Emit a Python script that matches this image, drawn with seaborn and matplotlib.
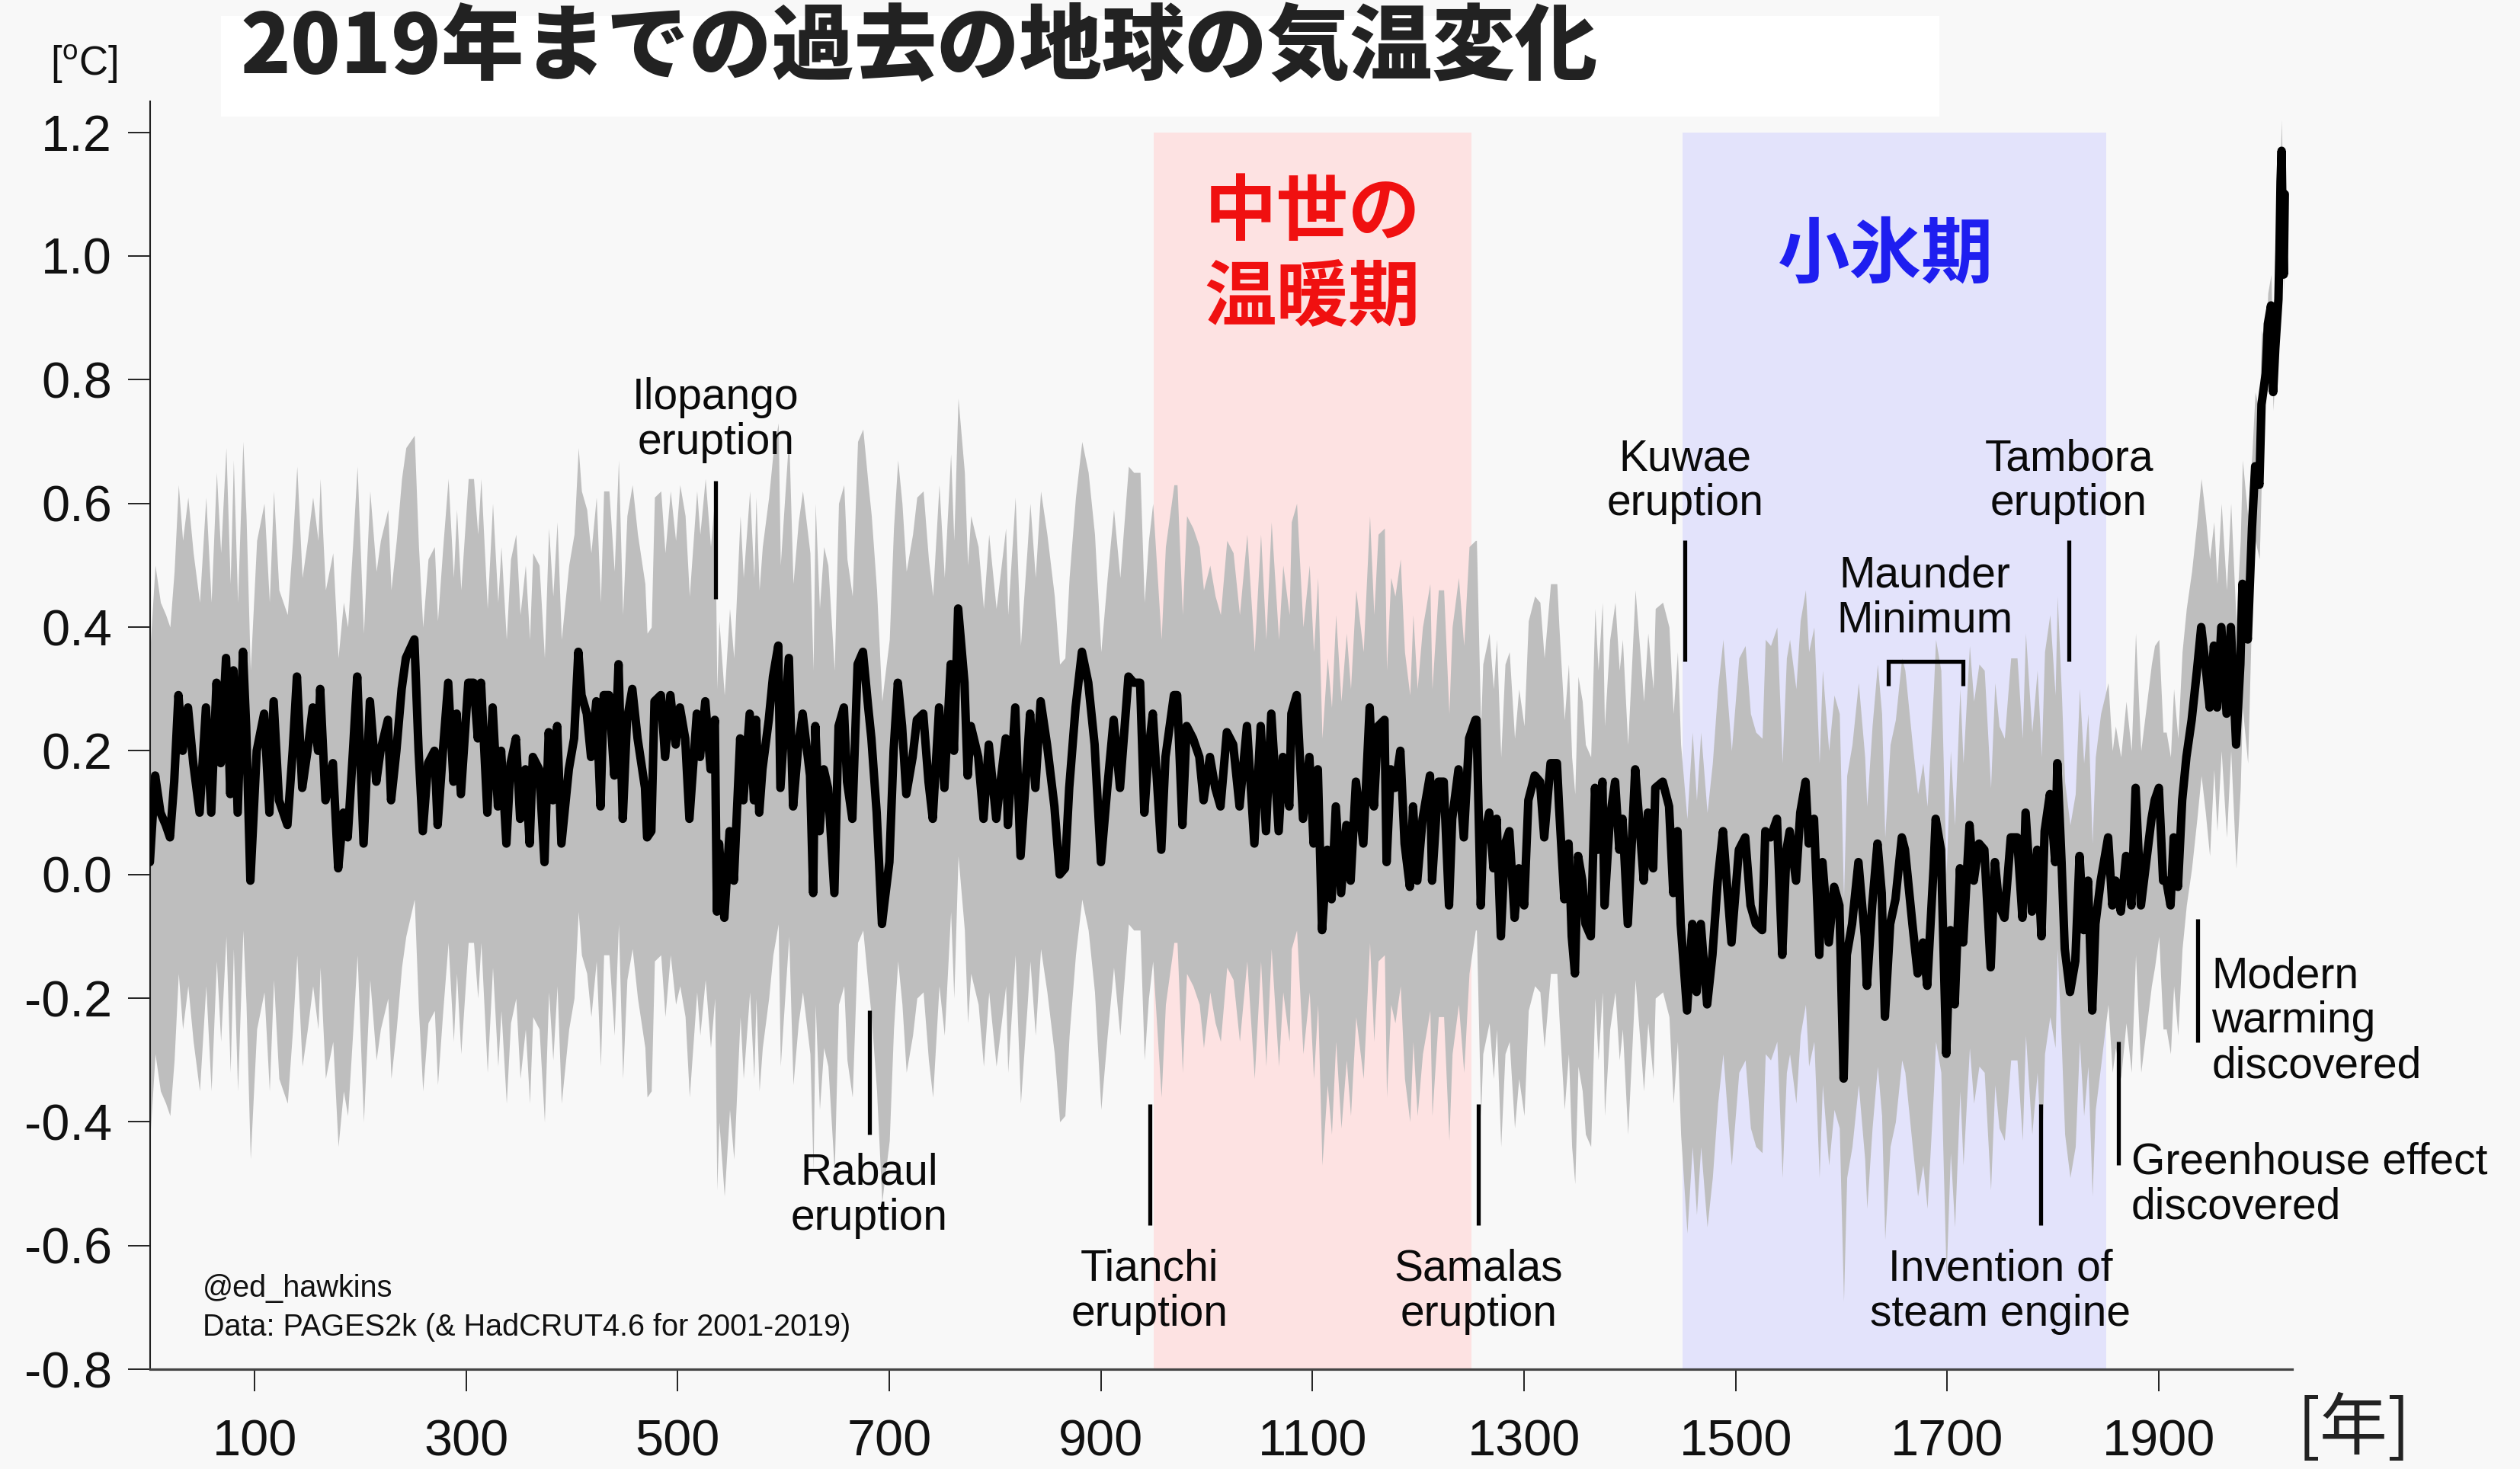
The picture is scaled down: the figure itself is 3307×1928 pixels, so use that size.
import numpy as np
import pandas as pd
import matplotlib
matplotlib.use("Agg")
import matplotlib.pyplot as plt
from matplotlib.patches import Rectangle
import seaborn as sns

# Reconstructed global mean temperature (median), year -> deg C
years = [
    1, 6, 11, 16, 20, 24, 28, 32, 37, 42, 48, 54, 59, 64, 68, 73, 77, 80, 84, 89,
    92, 96, 102, 109, 114, 118, 123, 131, 136, 140, 145, 150, 155, 160, 162, 167, 174, 179, 184, 188,
    193, 197, 203, 209, 215, 219, 226, 229, 234, 239, 243,
    251, 255, 259, 264, 270, 273, 278, 283, 288, 291, 295, 302, 307, 311, 314, 320, 325, 330, 333, 338,
    342, 347, 351, 356, 360, 363, 369, 374, 378, 382, 386, 390, 397, 402, 406, 409, 414, 418, 423, 427,
    430, 435, 440, 444, 448, 452, 457, 462, 469, 471, 475, 478, 484, 488, 493, 498,
    502, 507, 511, 518, 521, 526, 531, 535, 537, 539, 544, 549, 553, 559, 562, 568, 572, 574, 577, 580,
    586, 590, 595, 597, 605, 609, 614, 618, 625, 628, 630, 634, 638, 642, 648, 652, 657, 660, 665, 670,
    675, 680, 683, 688, 693, 695, 700, 704, 708, 712, 716, 722, 726, 732, 737, 741, 747, 752,
    758, 761, 765, 771, 774, 777, 784, 789, 794, 801, 810, 812, 819, 824, 830, 833, 838, 843, 849, 856,
    861, 866, 870, 876, 882, 888, 894, 900, 906, 912, 918, 926, 931, 937, 941, 945, 949, 957, 961, 969,
    972, 977, 981, 987, 993, 997, 1003,
    1008, 1013, 1019, 1025, 1031, 1038, 1045, 1051, 1056, 1061, 1068, 1072, 1078, 1080, 1085, 1091, 1097,
    1101, 1105, 1109, 1114, 1118, 1122, 1127, 1132, 1136, 1141, 1148, 1154, 1158, 1162, 1168, 1170, 1174,
    1178, 1183, 1187, 1192, 1195, 1199, 1204, 1211, 1213, 1219, 1224, 1229, 1232, 1238, 1243, 1248, 1254,
    1255, 1259, 1261, 1267, 1271, 1274, 1278, 1282, 1286, 1291, 1295, 1300, 1304, 1310, 1315, 1319, 1325,
    1331, 1333, 1338, 1342, 1345, 1348, 1351, 1355, 1358, 1363, 1367, 1370, 1374, 1376, 1381, 1386, 1390,
    1393, 1398, 1402, 1405, 1410, 1413, 1417, 1422, 1424, 1431, 1437, 1441, 1445, 1448, 1454, 1459, 1463,
    1467, 1473, 1478, 1483, 1488, 1491, 1496, 1503,
    1509, 1514, 1519, 1525, 1528, 1533, 1539, 1544, 1548, 1551, 1557, 1561, 1566, 1569, 1574, 1579, 1582,
    1588, 1593, 1598, 1602, 1605, 1610, 1616, 1622, 1624, 1629, 1634, 1638, 1641, 1646, 1651, 1657, 1660,
    1667, 1672, 1677, 1681, 1687, 1689, 1694, 1699, 1703, 1707, 1712, 1715, 1721, 1725, 1730, 1735, 1741,
    1745, 1749, 1754, 1760,
    1766, 1771, 1774, 1780, 1785, 1789, 1792, 1797, 1802, 1804, 1808, 1811, 1816, 1821, 1825, 1829, 1833,
    1837, 1840, 1845, 1852, 1856, 1859, 1864, 1869, 1874, 1878, 1883, 1888, 1893, 1896, 1900, 1904, 1907,
    1911, 1914, 1918, 1922, 1926, 1931, 1936, 1940, 1944, 1948, 1952, 1955, 1959, 1964, 1968, 1973, 1977,
    1979, 1984, 1988, 1991, 1995, 1997, 2001, 2003, 2006, 2008, 2010, 2013, 2014, 2015, 2016, 2017, 2018,
    2019,
]
temps = [
    0.02, 0.16, 0.10, 0.08, 0.06, 0.15, 0.29, 0.20, 0.27, 0.18, 0.10, 0.27, 0.10, 0.31, 0.18, 0.35, 0.13, 0.33, 0.10, 0.36,
    0.24, -0.01, 0.20, 0.26, 0.10, 0.28, 0.12, 0.08, 0.20, 0.32, 0.14, 0.20, 0.27, 0.20, 0.30, 0.12, 0.18, 0.01, 0.10, 0.06,
    0.20, 0.32, 0.05, 0.28, 0.15, 0.20, 0.25, 0.12, 0.20, 0.30, 0.35,
    0.38, 0.20, 0.07, 0.18, 0.20, 0.08, 0.20, 0.31, 0.15, 0.26, 0.13, 0.31, 0.31, 0.22, 0.31, 0.10, 0.27, 0.11, 0.20, 0.05,
    0.18, 0.22, 0.09, 0.17, 0.05, 0.19, 0.17, 0.02, 0.23, 0.12, 0.24, 0.05, 0.17, 0.22, 0.36, 0.29, 0.26, 0.19, 0.28, 0.11,
    0.29, 0.29, 0.16, 0.34, 0.09, 0.25, 0.30, 0.22, 0.14, 0.06, 0.07, 0.28, 0.29, 0.19, 0.29, 0.21,
    0.27, 0.22, 0.09, 0.26, 0.19, 0.28, 0.17, 0.25, -0.06, 0.05, -0.07, 0.07, -0.01, 0.22, 0.12, 0.26, 0.12, 0.25, 0.10, 0.17,
    0.25, 0.32, 0.37, 0.14, 0.35, 0.11, 0.21, 0.26, 0.16, -0.03, 0.24, 0.07, 0.17, 0.14, -0.03, 0.24, 0.27, 0.15, 0.09, 0.34,
    0.36, 0.27, 0.22, 0.10, -0.08, -0.05, 0.02, 0.20, 0.31, 0.24, 0.13, 0.19, 0.25, 0.26, 0.15, 0.09, 0.27, 0.14,
    0.34, 0.20, 0.43, 0.31, 0.16, 0.24, 0.19, 0.09, 0.21, 0.09, 0.22, 0.08, 0.27, 0.03, 0.18, 0.26, 0.14, 0.28, 0.21, 0.11,
    0.00, 0.01, 0.14, 0.27, 0.36, 0.31, 0.21, 0.02, 0.14, 0.25, 0.14, 0.32, 0.31, 0.31, 0.10, 0.20, 0.26, 0.04, 0.19, 0.29,
    0.29, 0.08, 0.24, 0.22, 0.19, 0.12, 0.19,
    0.14, 0.11, 0.23, 0.21, 0.11, 0.24, 0.05, 0.24, 0.07, 0.26, 0.07, 0.19, 0.11, 0.26, 0.29, 0.09, 0.19,
    0.05, 0.17, -0.09, 0.04, -0.04, 0.11, -0.03, 0.08, -0.01, 0.15, 0.05, 0.27, 0.11, 0.24, 0.25, 0.02, 0.17,
    0.14, 0.20, 0.05, -0.02, 0.11, -0.01, 0.09, 0.16, -0.01, 0.15, 0.15, -0.05, 0.09, 0.17, 0.06, 0.22, 0.25,
    0.25, -0.05, 0.05, 0.10, 0.01, 0.09, -0.10, 0.05, 0.07, -0.07, 0.01, -0.05, 0.12, 0.16, 0.15, 0.06, 0.18,
    0.18, 0.11, -0.04, 0.05, -0.10, -0.16, 0.03, -0.01, -0.08, -0.10, 0.14, 0.04, 0.15, -0.05, 0.09, 0.15, 0.04,
    0.09, -0.08, 0.06, 0.17, 0.06, -0.01, 0.10, 0.01, 0.14, 0.15, 0.11, -0.03, 0.07, -0.08, -0.22, -0.08, -0.19,
    -0.08, -0.21, -0.13, -0.01, 0.07, 0.00, -0.11, 0.04,
    0.06, -0.05, -0.08, -0.09, 0.07, 0.06, 0.09, -0.13, 0.04, 0.07, -0.01, 0.10, 0.15, 0.05, 0.09, -0.13, 0.02,
    -0.11, -0.02, -0.05, -0.33, -0.13, -0.08, 0.02, -0.10, -0.18, -0.05, 0.05, -0.03, -0.23, -0.08, -0.04, 0.06, 0.04,
    -0.08, -0.16, -0.11, -0.18, 0.01, 0.09, 0.04, -0.29, -0.09, -0.21, 0.01, -0.11, 0.08, -0.01, 0.05, 0.04, -0.15,
    0.02, -0.05, -0.07, 0.06,
    0.06, -0.07, 0.10, -0.06, 0.04, -0.10, 0.07, 0.13, 0.02, 0.18, 0.02, -0.12, -0.19, -0.14, 0.03, -0.09, -0.01,
    -0.22, -0.08, -0.01, 0.06, -0.05, -0.01, -0.06, 0.03, -0.05, 0.14, -0.05, 0.02, 0.09, 0.12, 0.14, -0.01, -0.01,
    -0.05, 0.06, -0.02, 0.12, 0.19, 0.25, 0.33, 0.40, 0.34, 0.27, 0.37, 0.27, 0.40, 0.26, 0.40, 0.21, 0.34,
    0.47, 0.38, 0.56, 0.66, 0.63, 0.76, 0.81, 0.89, 0.92, 0.78, 0.85, 0.93, 1.01, 1.12, 1.17, 1.05, 0.97,
    1.10,
]

# Ensemble spread around the median (upper / lower half-width) by period
spread_start = [0, 250, 500, 750, 1000, 1250, 1450, 1600, 1800, 1850, 1900, 1950, 1985, 2001]
spread_up = [0.34, 0.33, 0.36, 0.34, 0.31, 0.29, 0.31, 0.29, 0.27, 0.25, 0.24, 0.20, 0.12, 0.05]
spread_down = [0.45, 0.42, 0.45, 0.40, 0.38, 0.34, 0.36, 0.36, 0.30, 0.27, 0.24, 0.20, 0.12, 0.03]

# Named climate periods (start, end)
warm_period = (950, 1250)
little_ice_age = (1450, 1850)

x_ticks = [100, 300, 500, 700, 900, 1100, 1300, 1500, 1700, 1900]
y_ticks = [-0.8, -0.6, -0.4, -0.2, 0.0, 0.2, 0.4, 0.6, 0.8, 1.0, 1.2]
y_tick_labels = ["-0.8", "-0.6", "-0.4", "-0.2", "0.0", "0.2", "0.4", "0.6", "0.8", "1.0", "1.2"]

sns.set_style("ticks")
plt.rcParams["font.family"] = ["Liberation Sans", "Noto Sans CJK JP", "DejaVu Sans"]
plt.rcParams["axes.unicode_minus"] = False
plt.rcParams["mathtext.fontset"] = "custom"
plt.rcParams["mathtext.rm"] = "Liberation Sans"
CJK = ["Noto Sans CJK JP", "DejaVu Sans"]

BG = "#F8F8F8"
fig = plt.figure(figsize=(33.07, 19.28), dpi=100, facecolor=BG)
ax = fig.add_axes([0.0596, 0.0679, 0.8500, 0.8631])
ax.set_facecolor(BG)

df = pd.DataFrame({"year": years, "temp": temps})
blk = np.searchsorted(spread_start, df["year"].values, side="right") - 1
df["hi"] = df["temp"] + np.asarray(spread_up)[blk]
df["lo"] = df["temp"] - np.asarray(spread_down)[blk]

# period shading
ax.add_patch(Rectangle((warm_period[0], -0.8), warm_period[1] - warm_period[0], 2.0,
                       facecolor="#FDE2E2", edgecolor="none", zorder=0))
ax.add_patch(Rectangle((little_ice_age[0], -0.8), little_ice_age[1] - little_ice_age[0], 2.0,
                       facecolor="#E3E3FB", edgecolor="none", zorder=0))

# uncertainty band and median line
ax.fill_between(df["year"], df["lo"], df["hi"], color="#BEBEBE", lw=0, zorder=1)
sns.lineplot(data=df, x="year", y="temp", ax=ax, color="black", lw=8,
             estimator=None, sort=False, zorder=3)
for ln in ax.lines:
    ln.set_solid_joinstyle("round")

ax.set_xlim(1.3, 2026)
ax.set_ylim(-0.8, 1.25)
ax.set_xlabel("")
ax.set_ylabel("")
ax.set_xticks(x_ticks)
ax.set_xticklabels([str(t) for t in x_ticks])
ax.set_yticks(y_ticks)
ax.set_yticklabels(y_tick_labels)
ax.tick_params(axis="both", direction="out", length=21, width=1.3, colors="#111111",
               labelsize=48)
ax.tick_params(axis="x", pad=26)
ax.tick_params(axis="y", pad=15)
for s in ("top", "right"):
    ax.spines[s].set_visible(False)
ax.spines["left"].set_linewidth(1.5)
ax.spines["left"].set_color("#222222")
ax.spines["bottom"].set_linewidth(2.3)
ax.spines["bottom"].set_color("#444444")

# event markers
LW = 3.8
TFS = 41
TC = "#0a0a0a"
def vmark(x, y0, y1):
    ax.plot([x, x], [y0, y1], color="black", lw=LW, solid_capstyle="butt", zorder=4)

def note(x, y, s, ha, va):
    ax.text(x, y, s, ha=ha, va=va, fontsize=TFS, linespacing=1.12, color=TC, zorder=5)

vmark(536, 0.445, 0.637)
note(536, 0.665, "Ilopango\neruption", "center", "bottom")

vmark(681, -0.42, -0.22)
note(681, -0.45, "Rabaul\neruption", "center", "top")

vmark(946, -0.567, -0.371)
note(946, -0.605, "Tianchi\neruption", "center", "top")

vmark(1257, -0.567, -0.371)
note(1257, -0.605, "Samalas\neruption", "center", "top")

vmark(1452, 0.344, 0.541)
note(1452, 0.566, "Kuwae\neruption", "center", "bottom")

vmark(1815, 0.344, 0.541)
note(1815, 0.566, "Tambora\neruption", "center", "bottom")

ax.plot([1644, 1644, 1715, 1715], [0.305, 0.345, 0.345, 0.305], color="black", lw=LW,
        solid_joinstyle="miter", solid_capstyle="butt", zorder=4)
note(1679, 0.377, "Maunder\nMinimum", "center", "bottom")

vmark(1788, -0.567, -0.371)
note(1750, -0.605, "Invention of\nsteam engine", "center", "top")

vmark(1862, -0.47, -0.27)
note(1874, -0.432, "Greenhouse effect\ndiscovered", "left", "top")

vmark(1937, -0.272, -0.072)
note(1950, -0.131, "Modern\nwarming\ndiscovered", "left", "top")

# period labels
ax.text(1100, 1.0, "中世の\n温暖期", ha="center", va="center", fontsize=68, fontweight="bold",
        color="#F01010", family=CJK, linespacing=1.22, zorder=5)
ax.text(1642, 1.0, "小氷期", ha="center", va="center", fontsize=68, fontweight="bold",
        color="#1E1EF0", family=CJK, zorder=5)

# credits
fig.text(0.0804, 0.123, "@ed_hawkins", ha="left", va="center", fontsize=28.5, color="#111111")
fig.text(0.0804, 0.0965, "Data: PAGES2k (& HadCRUT4.6 for 2001-2019)", ha="left", va="center",
         fontsize=28.5, color="#111111")

# title box and title
fig.patches.append(Rectangle((0.0877, 0.9206), 0.682, 0.0685, transform=fig.transFigure,
                             facecolor="white", edgecolor="none", zorder=1))
fig.text(0.0953, 0.967, "2019年までの過去の地球の気温変化", ha="left", va="center",
         fontsize=78, fontweight=900, color="#222222", family=CJK, zorder=2)

# axis units
fig.text(0.0333, 0.9564, r"[$^{\mathrm{o}}$C]", ha="center", va="center", fontsize=38, color="#111111")
fig.text(0.934, 0.0265, "[年]", ha="center", va="center", fontsize=64, color="#222222", family=CJK)

fig.savefig("out.png", dpi=100, facecolor=BG)
